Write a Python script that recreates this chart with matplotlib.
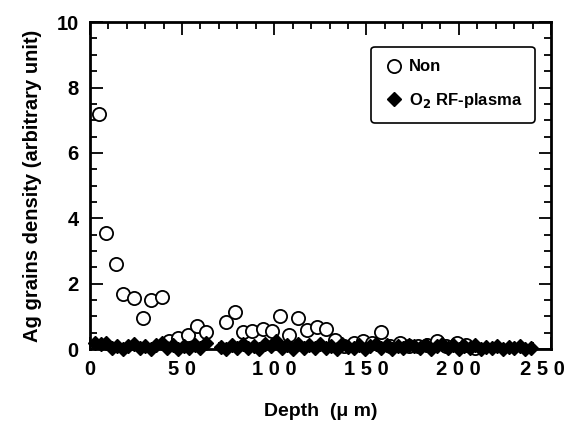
import matplotlib
matplotlib.use("Agg")
import matplotlib.pyplot as plt
from matplotlib.ticker import MultipleLocator
from matplotlib.transforms import ScaledTranslation

plt.rcParams['font.family'] = ['Liberation Sans', 'DejaVu Sans']
plt.rcParams['font.weight'] = 'bold'

# untreated sample (open circles)
non_depth = [5, 9, 14, 18, 24, 29, 33, 39, 43, 48, 53, 58, 63, 74, 79, 83, 88,
             94, 99, 103, 108, 113, 118, 123, 128, 133, 138, 143, 148, 153, 158,
             163, 168, 173, 178, 183, 188, 193, 199, 204, 209]
non_density = [7.2, 3.55, 2.6, 1.7, 1.57, 0.95, 1.5, 1.6, 0.25, 0.33, 0.43, 0.7,
               0.52, 0.83, 1.15, 0.53, 0.57, 0.62, 0.57, 1.02, 0.42, 0.95, 0.6,
               0.68, 0.62, 0.27, 0.1, 0.2, 0.24, 0.2, 0.53, 0.1, 0.19, 0.1, 0.1,
               0.12, 0.25, 0.1, 0.2, 0.12, 0.05]

# O2 RF-plasma treated sample (filled diamonds)
rf_depth = [3, 6, 9, 12, 15, 18, 21, 24, 27, 30, 33, 36, 39, 42, 45, 48, 51, 54,
            57, 60, 63, 71, 74, 77, 80, 83, 86, 89, 92, 95, 98, 101, 104, 107,
            110, 113, 116, 119, 122, 125, 128, 131, 134, 137, 140, 143, 146, 149,
            152, 155, 158, 161, 164, 167, 170, 173, 176, 179, 182, 185, 188, 191,
            194, 197, 200, 203, 206, 209, 212, 215, 218, 221, 224, 227, 230, 233,
            236, 239]
rf_density = [0.2, 0.15, 0.2, 0.05, 0.1, 0.02, 0.1, 0.15, 0.05, 0.1, 0.02, 0.12,
              0.18, 0.05, 0.12, 0.02, 0.1, 0.05, 0.12, 0.03, 0.18, 0.08, 0.02,
              0.12, 0.05, 0.15, 0.05, 0.1, 0.02, 0.15, 0.1, 0.25, 0.05, 0.12,
              0.02, 0.15, 0.05, 0.12, 0.03, 0.15, 0.05, 0.1, 0.02, 0.15, 0.08,
              0.05, 0.12, 0.02, 0.1, 0.15, 0.05, 0.12, 0.02, 0.1, 0.05, 0.12,
              0.1, 0.05, 0.12, 0.02, 0.1, 0.15, 0.05, 0.12, 0.02, 0.1, 0.05,
              0.12, 0.02, 0.08, 0.05, 0.1, 0.02, 0.08, 0.05, 0.1, 0.02, 0.05]

xticks = [0, 50, 100, 150, 200, 250]
xtick_labels = ['0', '5 0', '1 0 0', '1 5 0', '2 0 0', '2 5 0']
yticks = [0, 2, 4, 6, 8, 10]

fig = plt.figure(figsize=(5.68, 4.42), dpi=100)
ax = fig.add_axes([0.158, 0.21, 0.812, 0.74])

ax.plot(non_depth, non_density, 'o', mfc='white', mec='black', mew=1.3, ms=9.5,
        label='Non', clip_on=False, zorder=3)
ax.plot(rf_depth, rf_density, 'D', color='black', ms=7.5,
        label='O$_\\mathbf{2}$ RF-plasma', clip_on=False, zorder=4)

ax.set_xlim(0, 250)
ax.set_ylim(0, 10)
ax.set_xticks(xticks)
ax.set_xticklabels(xtick_labels)
ax.set_yticks(yticks)
ax.xaxis.set_minor_locator(MultipleLocator(10))
ax.yaxis.set_minor_locator(MultipleLocator(0.5))
ax.tick_params(which='both', direction='in', top=True, right=True, width=1.3,
               labelsize=14.5)
ax.tick_params(which='major', length=9, pad=8)
ax.tick_params(which='minor', length=5)
for sp in ax.spines.values():
    sp.set_linewidth(2)
# last label sits against the figure edge, shift it left a few points
lab = ax.xaxis.get_major_ticks()[-1].label1
lab.set_transform(lab.get_transform() + ScaledTranslation(-6 / 72, 0, fig.dpi_scale_trans))

ax.set_xlabel('Depth  (\u03bc m)', fontsize=14, fontweight='bold', labelpad=17)
ax.set_ylabel('Ag grains density (arbitrary unit)', fontsize=14.5,
              fontweight='bold', labelpad=10)

leg = ax.legend(loc='upper right', bbox_to_anchor=(0.965, 0.924),
                borderaxespad=0, frameon=True, fancybox=True,
                edgecolor='black', framealpha=1, borderpad=0.75,
                labelspacing=1.0, handletextpad=0.3, handlelength=1.2,
                prop={'weight': 'bold', 'size': 12})
leg.get_frame().set_linewidth(1.2)

fig.savefig('out.png', dpi=100)
